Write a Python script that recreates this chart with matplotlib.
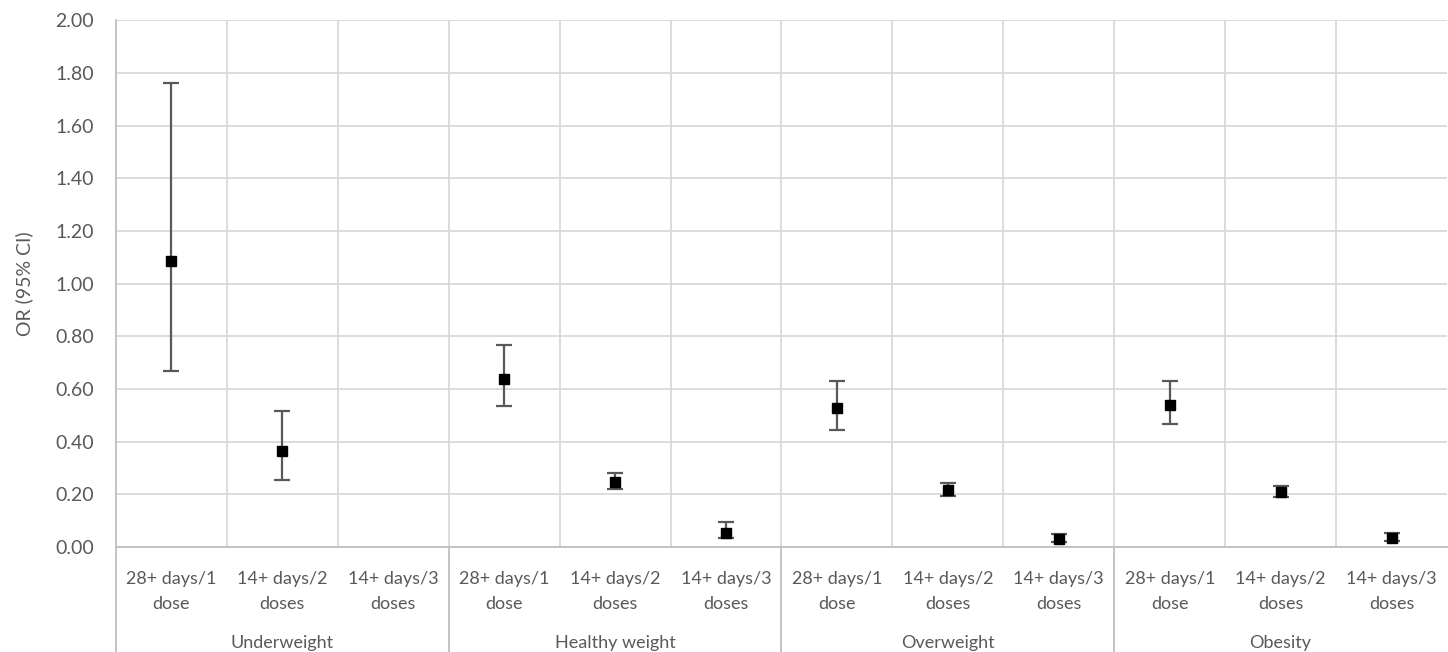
import numpy as np
import matplotlib.pyplot as plt

plt.rcParams['font.family'] = ['Lato', 'DejaVu Sans']

groups = ["Underweight", "Healthy weight", "Overweight", "Obesity"]
doses = ["28+ days/1\ndose", "14+ days/2\ndoses", "14+ days/3\ndoses"]

# OR with 95% CI, one row per group, one column per dose
or_vals = np.array([[1.085, 0.364, np.nan],
                    [0.637, 0.247, 0.053],
                    [0.527, 0.216, 0.030],
                    [0.539, 0.209, 0.034]])
ci_low = np.array([[0.670, 0.254, np.nan],
                   [0.535, 0.220, 0.034],
                   [0.444, 0.194, 0.019],
                   [0.467, 0.190, 0.023]])
ci_high = np.array([[1.760, 0.516, np.nan],
                    [0.767, 0.281, 0.095],
                    [0.630, 0.243, 0.049],
                    [0.630, 0.231, 0.053]])

y = or_vals.ravel()
lo = ci_low.ravel()
hi = ci_high.ravel()
x = np.arange(len(y))

grid_c = "#d9d9d9"
axis_c = "#bfbfbf"
text_c = "#595959"

fig = plt.figure(figsize=(14.48, 6.52), dpi=100)
ax = fig.add_axes([0.0801, 0.161, 0.9192, 0.808])

ax.errorbar(x, y, yerr=[y - lo, hi - y], fmt="s", color="black", markersize=6.5,
            ecolor="#595959", elinewidth=1.6, capsize=6, capthick=1.6, zorder=3)

ax.set_xlim(-0.5, len(y) - 0.5)
ax.set_ylim(0, 2.0)
ax.set_yticks(np.arange(0, 2.01, 0.2))
ax.set_yticklabels([f"{v:.2f}" for v in np.arange(0, 2.01, 0.2)])
ax.set_xticks([])
ax.set_xticks(np.arange(0.5, len(y) - 0.5, 1), minor=True)
ax.tick_params(axis="x", which="both", length=0, labelbottom=False)
ax.tick_params(axis="y", length=0, labelsize=14, labelcolor=text_c, pad=16)
ax.grid(axis="y", color=grid_c, linewidth=1.3)
ax.grid(axis="x", which="minor", color=grid_c, linewidth=1.3)
ax.set_axisbelow(True)

for s in ["top", "right"]:
    ax.spines[s].set_visible(False)
ax.spines["bottom"].set_color(axis_c)
ax.spines["bottom"].set_linewidth(1.3)
ax.spines["left"].set_color(axis_c)
ax.spines["left"].set_linewidth(1.3)

ax.set_ylabel("OR (95% CI)", fontsize=14, color=text_c, labelpad=16)

tr = ax.get_xaxis_transform()
for i in range(len(y)):
    ax.text(x[i], -0.045, doses[i % 3], transform=tr, ha="center", va="top",
            fontsize=13, color=text_c, linespacing=1.7)
for g, name in enumerate(groups):
    ax.text(g * 3 + 1, -0.167, name, transform=tr, ha="center", va="top",
            fontsize=13, color=text_c)
    ax.plot([g * 3 - 0.5, g * 3 - 0.5], [0, -0.2], transform=tr, color=axis_c,
            linewidth=1.3, clip_on=False)

fig.savefig("out.png", dpi=100)
